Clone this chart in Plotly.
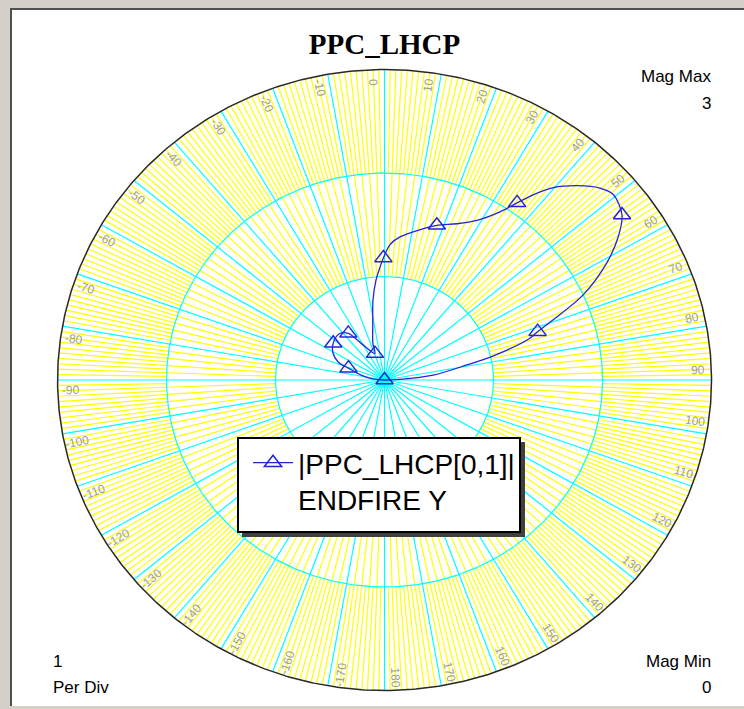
import numpy as np
import plotly.graph_objects as go

TITLE = "PPC_LHCP"
TRACE_NAME = "|PPC_LHCP[0,1]|<br>ENDFIRE Y"

# Swept trace: magnitude and phase in degrees (0 at top, clockwise positive)
MAG = [0.00, 0.14, 0.45, 0.77, 1.02, 1.39, 1.48, 1.65, 2.00, 2.33, 2.55,
       2.70, 2.76, 2.71, 2.58, 2.42, 2.25, 2.10, 1.94, 1.76, 1.65, 1.57,
       1.49, 1.39, 1.31, 1.18, 1.09, 0.97, 0.78, 0.56, 0.37, 0.27, 0.40,
       0.56, 0.61, 0.59, 0.54, 0.46, 0.35, 0.22, 0.11, 0.00]
ANG = [0.0, 87.2, 83.9, 79.1, 76.9, 73.2, 71.6, 69.4, 65.7, 61.0, 57.2,
       53.8, 49.5, 46.8, 43.3, 39.8, 37.3, 35.4, 33.1, 28.8, 23.8, 17.8,
       12.7, 5.9, 2.2, -0.5, -2.2, -4.6, -7.8, -11.1, -16.8, -19.1, -30.6,
       -36.4, -43.2, -52.9, -61.1, -67.8, -70.9, -77.5, -84.6, 0.0]
# samples that carry a triangle symbol
MARKER_IDX = [0, 6, 11, 17, 21, 25, 31, 33, 35, 38]

# grid settings
MAG_MAX = 3
MAG_MIN = 0
PER_DIV = 1
SPOKE_STEP = 10
ANGLE_LABELS = list(range(-170, 190, 10))

W, H = 744, 709
X_RANGE = [-3.528, 3.298]
Y_RANGE = [-3.179, 3.672]
SX = W / (X_RANGE[1] - X_RANGE[0])
SY = H / (Y_RANGE[1] - Y_RANGE[0])

YELLOW = "#ffff00"
CYAN = "#00ffff"
BLUE = "#2424dc"
LABEL_GRAY = "#9c9c9c"
SANS = "Liberation Sans, Arial, sans-serif"


def to_xy(r, deg):
    t = np.radians(deg)
    return r * np.sin(t), r * np.cos(t)


fig = go.Figure()

# fine radial lines: every 2 deg from the first division outwards,
# every 1 deg in the outermost division
fx, fy = [], []
for a in range(-179, 181):
    if a % SPOKE_STEP == 0:
        continue
    r_in = PER_DIV if a % 2 == 0 else MAG_MAX - PER_DIV
    x0, y0 = to_xy(r_in, a)
    x1, y1 = to_xy(MAG_MAX, a)
    fx += [x0, x1, None]
    fy += [y0, y1, None]
fig.add_trace(go.Scatter(x=fx, y=fy, mode="lines", line=dict(color=YELLOW, width=1.2),
                         hoverinfo="skip", showlegend=False))

# main spokes from the centre
sx_, sy_ = [], []
for a in range(-180, 180, SPOKE_STEP):
    x1, y1 = to_xy(MAG_MAX, a)
    sx_ += [0, x1, None]
    sy_ += [0, y1, None]
fig.add_trace(go.Scatter(x=sx_, y=sy_, mode="lines", line=dict(color=CYAN, width=1.2),
                         hoverinfo="skip", showlegend=False))

# magnitude rings
th = np.linspace(0, 360, 721)
rx, ry = [], []
for r in range(MAG_MIN + PER_DIV, MAG_MAX, PER_DIV):
    x, y = to_xy(r, th)
    rx += list(x) + [None]
    ry += list(y) + [None]
fig.add_trace(go.Scatter(x=rx, y=ry, mode="lines", line=dict(color=CYAN, width=1.2),
                         hoverinfo="skip", showlegend=False))
ox, oy = to_xy(MAG_MAX, th)
fig.add_trace(go.Scatter(x=ox, y=oy, mode="lines", line=dict(color="#282828", width=1.5),
                         hoverinfo="skip", showlegend=False))

# the trace itself
cx, cy = to_xy(np.array(MAG), np.array(ANG))
mcolors = [BLUE if i in MARKER_IDX else "rgba(0,0,0,0)" for i in range(len(MAG))]
fig.add_trace(go.Scatter(
    x=cx, y=cy, mode="lines+markers", name=TRACE_NAME,
    line=dict(color=BLUE, width=1.3, shape="spline", smoothing=0.9),
    marker=dict(symbol="triangle-up-open", size=15, color=mcolors,
                line=dict(width=1.5)),
    showlegend=True,
))

annotations = []
# angle labels, set just counter-clockwise of each spoke
for a in ANGLE_LABELS:
    pa = a - 2.0
    lx, ly = to_xy(2.88, pa)
    t = np.radians(pa)
    ang = np.degrees(np.arctan2(-SY * np.cos(t), SX * np.sin(t)))
    if a < 0:
        ang += 180
    if ang > 180:
        ang -= 360
    annotations.append(dict(x=lx, y=ly, xref="x", yref="y", text=str(a), showarrow=False,
                            textangle=ang, xanchor="center", yanchor="middle",
                            font=dict(family=SANS, size=12, color=LABEL_GRAY)))


def corner(text, px, py, anchor):
    return dict(x=px / W, y=1 - py / H, xref="paper", yref="paper", text=text,
                showarrow=False, xanchor=anchor, yanchor="middle",
                font=dict(family=SANS, size=17, color="#000000"))


annotations += [
    corner("Mag Max", 713, 76, "right"),
    corner(str(MAG_MAX), 713, 103, "right"),
    corner(str(PER_DIV), 51, 661, "left"),
    corner("Per Div", 51, 687, "left"),
    corner("Mag Min", 713, 661, "right"),
    corner(str(MAG_MIN), 713, 687, "right"),
]


def prect(x0, y0, x1, y1, **kw):
    return dict(type="rect", xref="paper", yref="paper", x0=x0 / W, x1=x1 / W,
                y0=1 - y1 / H, y1=1 - y0 / H, **kw)


shapes = [
    # window frame
    prect(0, 0, W, 8, fillcolor="#d4d0c8", line=dict(width=0), layer="above"),
    prect(0, 0, 10, H, fillcolor="#d4d0c8", line=dict(width=0), layer="above"),
    prect(0, 706, W, H, fillcolor="#d4d0c8", line=dict(width=0), layer="above"),
    prect(10, 8, W, 10, fillcolor="#505050", line=dict(width=0), layer="above"),
    prect(10, 8, 12, 706, fillcolor="#505050", line=dict(width=0), layer="above"),
    # legend panel with drop shadow
    prect(242, 442, 525, 537, fillcolor="#404040", line=dict(width=0), layer="above"),
    prect(238, 438, 520, 532, fillcolor="white", line=dict(color="#000000", width=2),
          layer="above"),
]

fig.update_layout(
    width=W, height=H,
    margin=dict(l=0, r=0, t=0, b=0),
    paper_bgcolor="white", plot_bgcolor="white",
    xaxis=dict(range=X_RANGE, visible=False, fixedrange=True),
    yaxis=dict(range=Y_RANGE, visible=False, fixedrange=True),
    title=dict(text="<b>" + TITLE + "</b>", x=384.5 / W, y=1 - 44 / H,
               xref="paper", yref="container", xanchor="center", yanchor="middle",
               font=dict(family="Liberation Serif, Times New Roman, serif", size=29,
                         color="#000000")),
    showlegend=True,
    legend=dict(x=248 / W, y=1 - 438 / H, xanchor="left", yanchor="top",
                bgcolor="rgba(0,0,0,0)", borderwidth=0,
                font=dict(family=SANS, size=28, color="#000000"),
                valign="top", itemwidth=40),
    annotations=annotations,
    shapes=shapes,
)

fig.write_html("out.html")
